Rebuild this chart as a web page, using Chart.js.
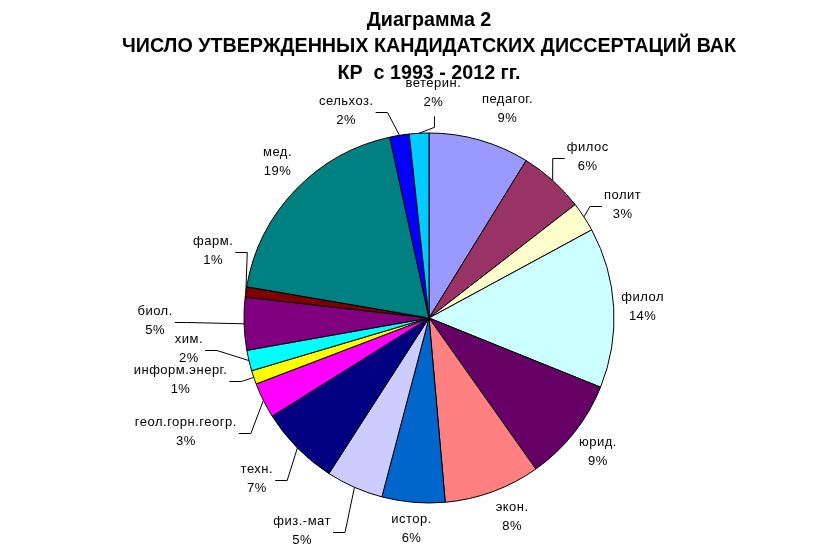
<!DOCTYPE html>
<html>
<head>
<meta charset="utf-8">
<script src="https://cdn.jsdelivr.net/npm/chart.js@4"></script>
<style>
  html, body { margin: 0; padding: 0; background: #fff; }
  #wrap { width: 816px; height: 558px; }
</style>
</head>
<body>
<div id="wrap"><canvas id="pieChart" width="816" height="558"></canvas></div>
<script>
// data (shares in %)
const categories = ['педагог.', 'филос', 'полит', 'филол', 'юрид.', 'экон.', 'истор.', 'физ.-мат', 'техн.',
  'геол.горн.геогр.', 'информ.энерг.', 'хим.', 'биол.', 'фарм.', 'мед.', 'сельхоз.', 'ветерин.'];
const shares = [8.8, 5.7, 2.6, 14.0, 9.1, 8.4, 5.5, 5.0, 7.0, 3.1, 1.2, 1.8, 4.6, 0.9, 18.9, 1.7, 1.7];
const titleLines = ['Диаграмма 2', 'ЧИСЛО УТВЕРЖДЕННЫХ КАНДИДАТСКИХ ДИССЕРТАЦИЙ ВАК', 'КР  с 1993 - 2012 гг.'];

// styles
const sliceColors = ['#9999FF', '#993366', '#FFFFCC', '#CCFFFF', '#660066', '#FF8080', '#0066CC', '#CCCCFF', '#000080',
  '#FF00FF', '#FFFF00', '#00FFFF', '#800080', '#800000', '#008080', '#0000FF', '#00CCFF'];
// nudge of each label from its default spot, and how its leader line attaches
const labelShift = [[19, 1], [13, 1], [11, 6], [-4, 1], [-2, -1], [8, -6], [1, -6], [-39, 13], [-17, 8],
  [-48, 17], [-42, -8], [-28, -19], [-56, -4], [0, -36], [6, -5], [-48, 8], [16, -7]];
const leaderKind = ['', 'h', 'h', '', '', '', '', 'h', 'h', 'h', 'h', 'h', 'h', 'h', '', 'h', 'v'];

const outsideLabels = {
  id: 'outsideLabels',
  afterDatasetsDraw(chart) {
    const ctx = chart.ctx;
    const meta = chart.getDatasetMeta(0);
    const values = chart.data.datasets[0].data;
    const total = values.reduce((a, b) => a + b, 0);
    ctx.save();
    ctx.font = '13px "Liberation Sans", Arial, sans-serif';
    ctx.letterSpacing = '0.5px';
    ctx.fillStyle = '#000';
    ctx.strokeStyle = '#000';
    ctx.lineWidth = 1;
    ctx.textAlign = 'center';
    ctx.textBaseline = 'middle';
    meta.data.forEach((arc, i) => {
      const p = arc.getProps(['x', 'y', 'startAngle', 'endAngle', 'outerRadius'], true);
      const mid = (p.startAngle + p.endAngle) / 2;
      const ex = p.x + Math.cos(mid) * p.outerRadius;
      const ey = p.y + Math.sin(mid) * p.outerRadius;
      const lr = p.outerRadius + 33;
      const lx = p.x + Math.cos(mid) * lr + labelShift[i][0];
      const ly = p.y + Math.sin(mid) * lr + labelShift[i][1];
      const pct = Math.round(values[i] / total * 100) + '%';
      const w = Math.max(ctx.measureText(categories[i]).width, ctx.measureText(pct).width);

      ctx.fillText(categories[i], lx, ly - 9.5);
      ctx.fillText(pct, lx, ly + 9.5);

      if (leaderKind[i] === 'h') {
        const dir = lx < ex ? 1 : -1;
        const x0 = lx + dir * (w / 2 + 2);
        const x1 = x0 + dir * 12;
        const y = Math.round(ly + 1) + 0.5;
        ctx.beginPath();
        ctx.moveTo(x0, y);
        ctx.lineTo(x1, y);
        ctx.lineTo(ex, ey);
        ctx.stroke();
      } else if (leaderKind[i] === 'v') {
        const x = Math.round(lx + 1) + 0.5;
        const y0 = ly + 23;
        const y1 = y0 + 11;
        ctx.beginPath();
        ctx.moveTo(x, y0);
        ctx.lineTo(x, y1);
        ctx.lineTo(ex, ey);
        ctx.stroke();
      }
    });
    ctx.restore();
  }
};

new Chart(document.getElementById('pieChart').getContext('2d'), {
  type: 'pie',
  data: {
    labels: categories,
    datasets: [{
      data: shares,
      backgroundColor: sliceColors,
      borderColor: '#000',
      borderWidth: 1
    }]
  },
  options: {
    responsive: false,
    animation: false,
    radius: 185,
    layout: { padding: { left: 42, right: 0, top: 0, bottom: 8.8 } },
    plugins: {
      legend: { display: false },
      tooltip: { enabled: false },
      title: {
        display: true,
        text: titleLines,
        color: '#000',
        font: { family: '"Liberation Sans", Arial, sans-serif', size: 19.7, weight: 'bold', lineHeight: 1.35 },
        padding: { top: 7, bottom: 0 }
      }
    }
  },
  plugins: [outsideLabels]
});
</script>
</body>
</html>
